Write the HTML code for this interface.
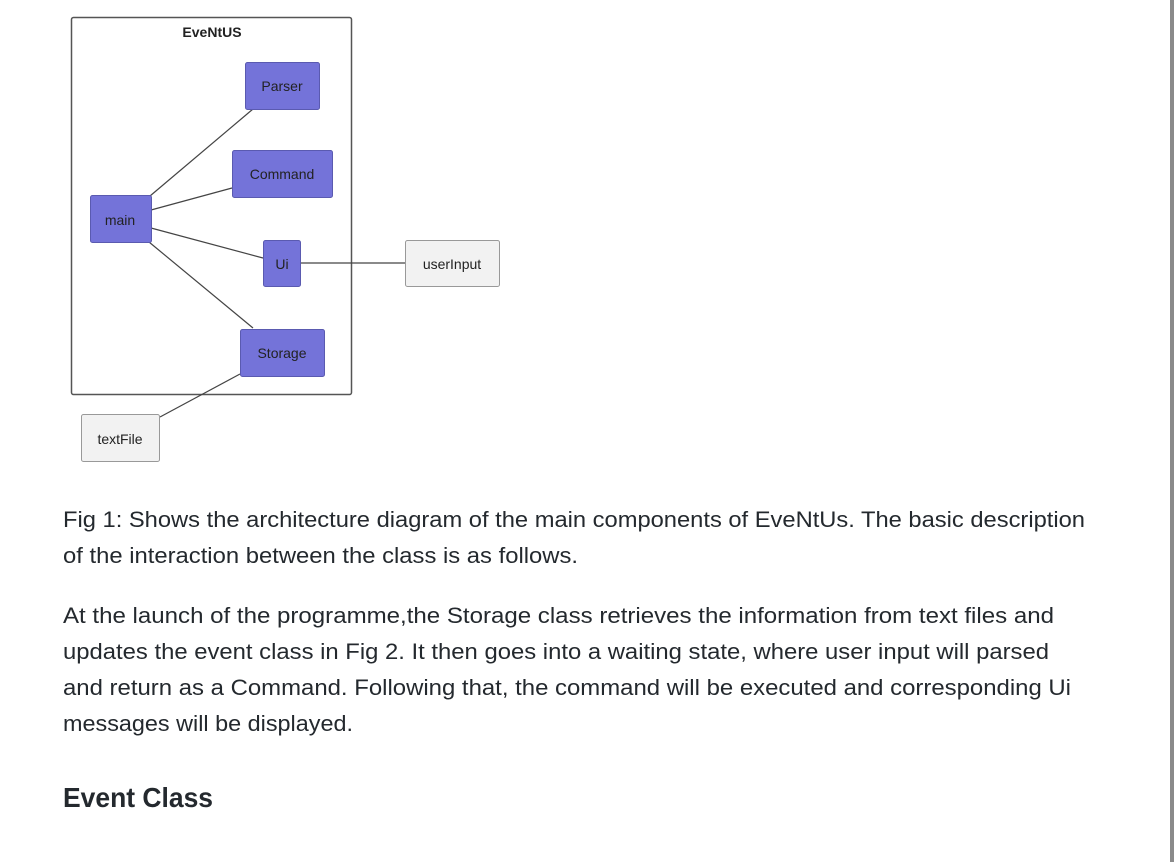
<!DOCTYPE html>
<html><head><meta charset="utf-8"><style>html,body{margin:0;padding:0;background:#fff;width:1174px;height:862px;overflow:hidden}</style></head>
<body>
<svg width="1174" height="862" xmlns="http://www.w3.org/2000/svg" style="display:block">
<rect x="0" y="0" width="1174" height="862" fill="#fff"/>
<rect x="1170" y="0" width="4" height="862" fill="#8a8a8a"/>
<rect x="71.5" y="17.5" width="280" height="377" rx="2" fill="#fff" stroke="#555" stroke-width="1.5"/>
<text x="212" y="37" font-family="Liberation Sans, sans-serif" font-weight="bold" font-size="14" fill="#222" text-anchor="middle">EveNtUS</text>
<g stroke="#444" stroke-width="1.2">
<line x1="150" y1="196" x2="253" y2="109"/>
<line x1="151" y1="210" x2="232" y2="188"/>
<line x1="151" y1="228" x2="263" y2="258"/>
<line x1="149" y1="242" x2="253" y2="328"/>
<line x1="301" y1="263" x2="405" y2="263"/>
<line x1="240" y1="374" x2="160" y2="417"/>
</g>
<g fill="#7473d9" stroke="#5a5ab0" stroke-width="1">
<rect x="245.5" y="62.5" width="74" height="47" rx="2"/>
<rect x="232.5" y="150.5" width="100" height="47" rx="2"/>
<rect x="90.5" y="195.5" width="61" height="47" rx="2"/>
<rect x="263.5" y="240.5" width="37" height="46" rx="2"/>
<rect x="240.5" y="329.5" width="84" height="47" rx="2"/>
</g>
<g fill="#f2f2f2" stroke="#999" stroke-width="1">
<rect x="405.5" y="240.5" width="94" height="46" rx="2"/>
<rect x="81.5" y="414.5" width="78" height="47" rx="2"/>
</g>
<g font-family="Liberation Sans, sans-serif" font-size="14" fill="#222" text-anchor="middle">
<text x="282" y="91">Parser</text>
<text x="282" y="179">Command</text>
<text x="120" y="225">main</text>
<text x="282" y="269">Ui</text>
<text x="282" y="358">Storage</text>
<text x="452" y="269">userInput</text>
<text x="120" y="444">textFile</text>
</g>
<g font-family="Liberation Sans, sans-serif" font-size="22" fill="#24292e">
<text x="63" y="527" textLength="1022" lengthAdjust="spacingAndGlyphs">Fig 1: Shows the architecture diagram of the main components of EveNtUs. The basic description</text>
<text x="63" y="563" textLength="515" lengthAdjust="spacingAndGlyphs">of the interaction between the class is as follows.</text>
<text x="63" y="623" textLength="991" lengthAdjust="spacingAndGlyphs">At the launch of the programme,the Storage class retrieves the information from text files and</text>
<text x="63" y="659" textLength="986" lengthAdjust="spacingAndGlyphs">updates the event class in Fig 2. It then goes into a waiting state, where user input will parsed</text>
<text x="63" y="695" textLength="1008" lengthAdjust="spacingAndGlyphs">and return as a Command. Following that, the command will be executed and corresponding Ui</text>
<text x="63" y="731" textLength="290" lengthAdjust="spacingAndGlyphs">messages will be displayed.</text>
<text x="63" y="807" font-size="28" font-weight="bold" textLength="150" lengthAdjust="spacingAndGlyphs">Event Class</text>
</g>
</svg>
</body></html>
